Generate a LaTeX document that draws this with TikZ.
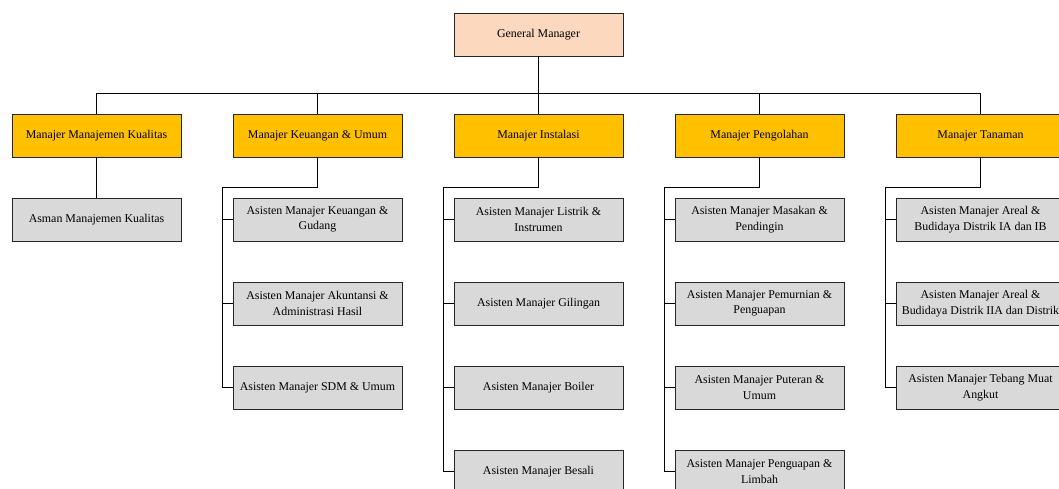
\documentclass[tikz,border=0pt]{standalone}
\usepackage{fontspec}
\setmainfont{Liberation Serif}
\definecolor{gmfill}{RGB}{251,216,190}
\definecolor{mgrfill}{RGB}{255,192,0}
\definecolor{asstfill}{RGB}{217,217,217}
\begin{document}
\begin{tikzpicture}[x=1pt,y=-1pt,line width=.8pt,
  every node/.style={draw=black!85,rectangle,minimum width=169pt,minimum height=43pt,
    inner sep=1pt,align=center,font=\fontsize{11.9}{15.5}\selectfont},
  gm/.style={fill=gmfill},
  mgr/.style={fill=mgrfill},
  asst/.style={fill=asstfill}
]
    \path[use as bounding box] (0,0) rectangle (1059,489);
    \clip (0,0) rectangle (1059,489);

    \node[gm] (gen) at (538.5,34.5) {General Manager};

    \node[mgr] (m1) at (96.5,135.5) {Manajer Manajemen Kualitas};
    \node[mgr] (m2) at (317.5,135.5) {Manajer Keuangan \& Umum};
    \node[mgr] (m3) at (538.5,135.5) {Manajer Instalasi};
    \node[mgr] (m4) at (759.5,135.5) {Manajer Pengolahan};
    \node[mgr] (m5) at (980.5,135.5) {Manajer Tanaman};

    \node[asst] (a11) at (96.5,219.5) {Asman Manajemen Kualitas};

    \node[asst] (a21) at (317.5,219.5) {Asisten Manajer Keuangan \&\\Gudang};
    \node[asst] (a22) at (317.5,303.5) {Asisten Manajer Akuntansi \&\\Administrasi Hasil};
    \node[asst] (a23) at (317.5,387.5) {Asisten Manajer SDM \& Umum};

    \node[asst] (a31) at (538.5,219.5) {Asisten Manajer Listrik \&\\Instrumen};
    \node[asst] (a32) at (538.5,303.5) {Asisten Manajer Gilingan};
    \node[asst] (a33) at (538.5,387.5) {Asisten Manajer Boiler};
    \node[asst] (a34) at (538.5,471.5) {Asisten Manajer Besali};

    \node[asst] (a41) at (759.5,219.5) {Asisten Manajer Masakan \&\\Pendingin};
    \node[asst] (a42) at (759.5,303.5) {Asisten Manajer Pemurnian \&\\Penguapan};
    \node[asst] (a43) at (759.5,387.5) {Asisten Manajer Puteran \&\\Umum};
    \node[asst] (a44) at (759.5,471.5) {Asisten Manajer Penguapan \&\\Limbah};

    \node[asst] (a51) at (980.5,219.5) {Asisten Manajer Areal \&\\Budidaya Distrik IA dan IB};
    \node[asst] (a52) at (980.5,303.5) {Asisten Manajer Areal \&\\Budidaya Distrik IIA dan Distrik};
    \node[asst] (a53) at (980.5,387.5) {Asisten Manajer Tebang Muat\\Angkut};

    \coordinate (top) at (538.5,93);
    \coordinate (k2) at (222.5,187);
    \coordinate (k3) at (443.5,187);
    \coordinate (k4) at (664.5,187);
    \coordinate (k5) at (885.5,187);

    \draw (gen) -- (top);
    \draw (m1) |- (top);
    \draw (m2) |- (top);
    \draw (m4) |- (top);
    \draw (m5) |- (top);
    \draw (top) -- (m3);
    \draw (m1) -- (a11);

    \draw (m2) |- (k2);
    \draw (k2) |- (a21);
    \draw (k2) |- (a22);
    \draw (k2) |- (a23);

    \draw (m3) |- (k3);
    \draw (k3) |- (a31);
    \draw (k3) |- (a32);
    \draw (k3) |- (a33);
    \draw (k3) |- (a34);

    \draw (m4) |- (k4);
    \draw (k4) |- (a41);
    \draw (k4) |- (a42);
    \draw (k4) |- (a43);
    \draw (k4) |- (a44);

    \draw (m5) |- (k5);
    \draw (k5) |- (a51);
    \draw (k5) |- (a52);
    \draw (k5) |- (a53);
\end{tikzpicture}
\end{document}
